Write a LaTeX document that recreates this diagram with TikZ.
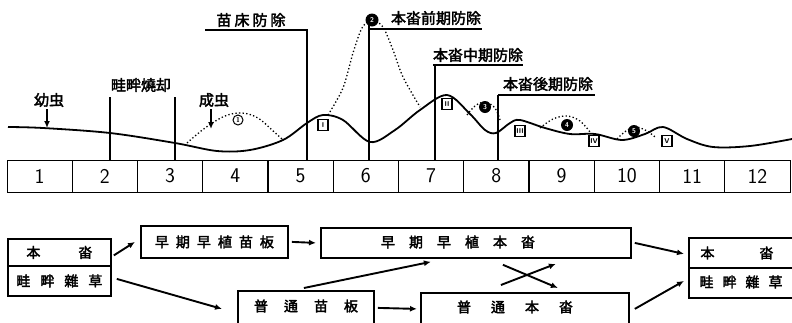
\documentclass[tikz,border=0pt]{standalone}
\usepackage{fontspec}
\newfontfamily\cjk{Noto Sans CJK KR}[AutoFakeBold=2.5]
\usetikzlibrary{arrows.meta}
\begin{document}
\begin{tikzpicture}[x=1pt,y=-1pt,
  lab/.style={font=\cjk\bfseries\fontsize{15}{15}\selectfont, inner sep=0pt},
  btxt/.style={font=\cjk\bfseries\fontsize{14}{14}\selectfont, inner sep=0pt},
  fbox/.style={draw, line width=1.8pt, inner sep=0pt, anchor=north west},
  num/.style={font=\sffamily\fontsize{21}{21}\selectfont, inner sep=0pt},
  curvel/.style={line width=1.8pt},
  dotc/.style={line width=1.3pt, dash pattern=on 1.3pt off 2.3pt},
  brk/.style={line width=1.2pt},
  arr/.style={line width=1.9pt, -{Latex[length=7pt,width=6pt]}},
  cmk/.style={circle, draw, line width=1pt, inner sep=0pt, minimum size=10pt, font=\sffamily\bfseries\fontsize{7}{7}\selectfont},
  cmkf/.style={circle, fill=black, text=white, inner sep=0pt, minimum size=12pt, font=\sffamily\bfseries\fontsize{7}{7}\selectfont},
  bmk/.style={rectangle, draw, line width=1.3pt, inner sep=0pt, minimum width=10pt, minimum height=11pt, font=\sffamily\bfseries\fontsize{7}{7}\selectfont}
]
\useasboundingbox (0,0) rectangle (792,322);

% ---------- timeline ----------
\node[draw, line width=1.4pt, minimum width=783pt, minimum height=32pt, anchor=north west, inner sep=0pt] (tl) at (7,160) {};
\foreach \i in {1,...,11} \draw[line width=1.3pt] (7+65.25*\i,160) -- (7+65.25*\i,192);
\foreach \i in {1,...,12} \node[num] (n\i) at (7+65.25*\i-32.6,176) {\i};

% ---------- population curve ----------
\draw[curvel] plot[smooth, tension=0.55] coordinates {(8,127) (43,128) (110,133) (175,143) (217,151) (250,150) (283,140) (307,123) (323,115) (343,120) (370,142) (395,130) (420,110) (447,95) (470,114) (485,130) (496,133) (510,123) (520,120) (545,128) (570,134) (595,134) (622,140) (645,134) (663,127) (687,139) (713,147) (750,146) (792,139)};

% dotted humps
\draw[dotc] plot[smooth, tension=0.6] coordinates {(187,143) (205,128) (225,116) (242,113) (258,118) (272,130) (283,140)};
\draw[dotc] plot[smooth, tension=0.5] coordinates {(328,115) (343,88) (353,53) (362,28) (372,20) (383,27) (393,50) (403,77) (420,107)};
\draw[dotc] plot[smooth, tension=0.6] coordinates {(467,115) (475,106) (485,102) (495,108) (500,120)};
\draw[dotc] plot[smooth, tension=0.6] coordinates {(540,128) (553,119) (567,116) (580,121) (590,132)};
\draw[dotc] plot[smooth, tension=0.6] coordinates {(617,139) (626,131) (636,127) (647,131) (655,137)};

% generation markers
\node[cmk] (c1) at (238,120) {1};
\node[cmkf, minimum size=13pt] (c2) at (372,20) {2};
\node[cmkf] (c3) at (485,107) {3};
\node[cmkf] (c4) at (567,125) {4};
\node[cmkf] (c5) at (634,131) {5};
\node[bmk] (b1) at (323,125) {I};
\node[bmk] (b2) at (447,104) {II};
\node[bmk] (b3) at (520,131) {III};
\node[bmk] (b4) at (594,141) {IV};
\node[bmk] (b5) at (667,141) {V};

% ---------- labels above ----------
\node[lab] (yo) at (49,100) {幼虫};
\coordinate (yoE) at (47,128);
\draw[arr, line width=1.6pt] ([shift={(-2,2)}]yo.south) -- (yoE);

\node[lab] (se) at (214,100) {成虫};
\coordinate (seE) at (211,129);
\draw[arr, line width=1.6pt] ([shift={(-3,2)}]se.south) -- (seE);

\node[lab] (ke) at (141,85) {畦畔燒却};
\draw[brk] (110,97) -- (110,160);
\draw[brk] (175,97) -- (175,160);

\node[lab] (nae) at (251,20) {苗\hspace{3pt}床\hspace{3pt}防\hspace{3pt}除};
\draw[brk] (205,30) -- (307,30) -- (307,160);

\node[lab] (zen) at (436,18) {本畓前期防除};
\draw[brk] (370,29) -- (482,29);
\draw[brk] (369,24) -- (369,160);

\node[lab] (chu) at (478,55) {本畓中期防除};
\draw[brk] (433,65) -- (523,65);
\draw[brk] (435,65) -- (435,160);

\node[lab] (ko) at (548,84) {本畓後期防除};
\draw[brk] (498,95) -- (595,95);
\draw[brk] (498,95) -- (498,160);

% ---------- flow chart ----------
\node[fbox, minimum width=103pt, minimum height=27pt, btxt] (L1) at (7,238) {本\hspace{38pt}畓};
\node[fbox, minimum width=103pt, minimum height=30pt, btxt] (L2) at (7,265) {畦\hspace{10pt}畔\hspace{10pt}雜\hspace{10pt}草};

\node[fbox, minimum width=147pt, minimum height=32pt, btxt] (E1) at (140,225) {早\hspace{7pt}期\hspace{7pt}早\hspace{7pt}植\hspace{7pt}苗\hspace{7pt}板};
\node[fbox, minimum width=310pt, minimum height=30pt] (E2) at (320,227) {};
\node[btxt] (E2t) at (458,242) {早\hspace{14pt}期\hspace{14pt}早\hspace{14pt}植\hspace{14pt}本\hspace{14pt}畓};

\node[fbox, minimum width=136pt, minimum height=50pt] (P1) at (237,290) {};
\node[btxt] (P1t) at (306,306) {普\hspace{16pt}通\hspace{16pt}苗\hspace{16pt}板};
\node[fbox, minimum width=208pt, minimum height=50pt] (P2) at (420,292) {};
\node[btxt] (P2t) at (515,307) {普\hspace{20pt}通\hspace{20pt}本\hspace{20pt}畓};

\node[fbox, minimum width=112pt, minimum height=30pt] (R1) at (688,237) {};
\node[btxt] (R1t) at (737,253) {本\hspace{45pt}畓};
\node[fbox, minimum width=112pt, minimum height=30pt] (R2) at (688,267) {};
\node[btxt] (R2t) at (741,282) {畦\hspace{9pt}畔\hspace{9pt}雜\hspace{9pt}草};

\draw[arr] ([shift={(2,3)}]L1.east) -- ([shift={(-5,0)}]E1.west);
\draw[arr] ([shift={(5,-2)}]L2.east) -- ([shift={(-15,-7)}]P1.west);
\draw[arr] ([xshift=3pt]E1.east) -- ([xshift=-4pt]E2.west);
\draw[arr] ([shift={(-2,-2)}]P1.north) -- ([shift={(-45,3)}]E2.south);
\draw[arr] ([shift={(3,-8)}]P1.east) -- ([shift={(-3,-9)}]P2.west);
\draw[arr] ([shift={(27,6)}]E2.south) -- ([shift={(33,-4)}]P2.north);
\draw[arr] ([shift={(-24,-7)}]P2.north) -- ([shift={(80,5)}]E2.south);
\draw[arr] ([xshift=3pt]E2.east) -- ([shift={(-4,1)}]R1.west);
\draw[arr] ([shift={(5,-9)}]P2.east) -- ([shift={(-4,-2)}]R2.west);
\end{tikzpicture}
\end{document}
